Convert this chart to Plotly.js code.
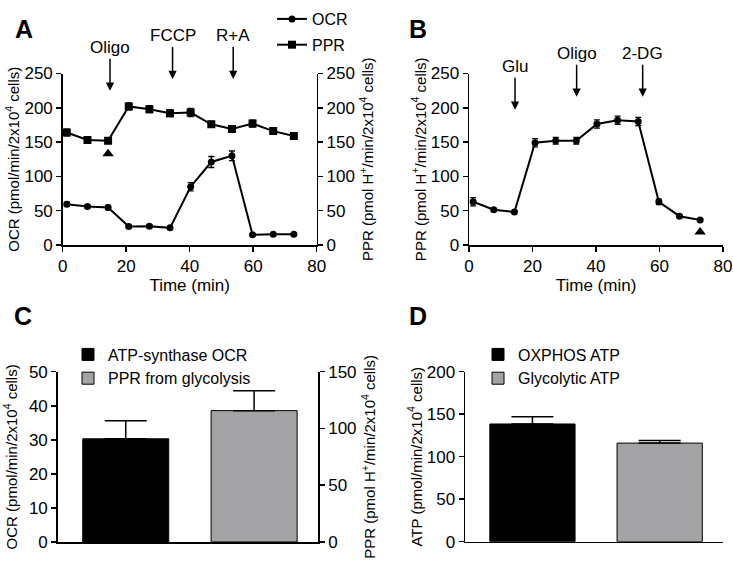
<!DOCTYPE html>
<html>
<head>
<meta charset="utf-8">
<script src="https://cdn.plot.ly/plotly-3.0.1.min.js"></script>
<style>body{margin:0;background:#fff}</style>
</head>
<body>
<div id="myDiv" style="width:733px;height:566px"></div>
<script>
// time points (min), shared by panel A and B
var time = [1.3, 7.8, 14.3, 20.8, 27.3, 33.8, 40.3, 46.8, 53.3, 59.8, 66.3, 72.8];

// panel A
var ocr = [59.5, 56, 54.7, 27, 27.5, 25, 85, 121, 130, 15, 15.5, 15.5];
var ocr_err = [3, 2, 3, 2, 2, 2, 6, 8, 7, 1.5, 1.5, 1.5];
var ppr_a = [164, 153, 152, 202, 198, 192, 193, 176, 169, 177, 166, 159];
var ppr_a_err = [5, 3, 3, 5, 5, 5, 6, 4, 3, 5, 4, 4];
var inject_a = ['Oligo', 'FCCP', 'R+A'];
var inject_a_t = [14.9, 34.6, 53.7];
var inject_a_tip = [225, 242, 242];
var mark_a = [14.3, 133];

// panel B
var ppr_b = [63, 51.5, 48, 149, 152, 152, 176.5, 182, 180, 63, 42, 36.5];
var ppr_b_err = [6, 2, 1.5, 6, 5, 5, 6, 6, 6, 4, 2, 2];
var inject_b = ['Glu', 'Oligo', '2-DG'];
var inject_b_t = [14.5, 33.9, 54.7];
var inject_b_tip = [197, 216, 216];
var mark_b = [72.8, 19];

// panel C
var c_names = ['ATP-synthase OCR', 'PPR from glycolysis'];
var c_values = [30.3, 115.7];
var c_err = [5.3, 17.6];

// panel D
var d_names = ['OXPHOS ATP', 'Glycolytic ATP'];
var d_values = [138.5, 116];
var d_err = [8.5, 3];

var W = 733, H = 566;
function px(x){ return x / W; }
function py(y){ return 1 - y / H; }

var font = 'Liberation Sans, Arial, sans-serif';

function axis(extra){
    var a = {
        showline: true, linecolor: '#000', linewidth: 1.5,
        ticks: 'outside', ticklen: 5, tickwidth: 1.5, tickcolor: '#000',
        showgrid: false, zeroline: false,
        tickfont: {family: font, size: 17, color: '#000'},
        fixedrange: true
    };
    for (var k in extra) a[k] = extra[k];
    return a;
}

function errs(arr){
    return {type: 'data', array: arr, color: '#000', thickness: 1.3, width: 3};
}

var line = {color: '#000', width: 2};

var data = [
    {
        x: time, y: ocr, error_y: errs(ocr_err),
        mode: 'lines+markers', name: 'OCR', legendgroup: 'a1',
        line: line, marker: {symbol: 'circle', size: 7, color: '#000'},
        xaxis: 'x', yaxis: 'y'
    },
    {
        x: time, y: ppr_a, error_y: errs(ppr_a_err),
        mode: 'lines+markers', name: 'PPR', legendgroup: 'a2',
        line: line, marker: {symbol: 'square', size: 8, color: '#000'},
        xaxis: 'x', yaxis: 'y2'
    },
    {
        x: [mark_a[0]], y: [mark_a[1]], mode: 'markers', showlegend: false,
        marker: {symbol: 'triangle-up', size: 10, color: '#000'},
        xaxis: 'x', yaxis: 'y2'
    },
    {
        x: time, y: ppr_b, error_y: errs(ppr_b_err),
        mode: 'lines+markers', name: 'PPR B', showlegend: false,
        line: line, marker: {symbol: 'circle', size: 7, color: '#000'},
        xaxis: 'x2', yaxis: 'y3'
    },
    {
        x: [mark_b[0]], y: [mark_b[1]], mode: 'markers', showlegend: false,
        marker: {symbol: 'triangle-up', size: 10, color: '#000'},
        xaxis: 'x2', yaxis: 'y3'
    },
    {
        type: 'bar', x: [c_names[0]], y: [c_values[0]], name: c_names[0],
        width: 0.67, legend: 'legend2',
        marker: {color: '#000', line: {color: '#000', width: 1}},
        error_y: {type: 'data', array: [c_err[0]], arrayminus: [0], symmetric: false, color: '#000', thickness: 1.5, width: 21},
        xaxis: 'x3', yaxis: 'y4'
    },
    {
        type: 'bar', x: [c_names[1]], y: [c_values[1]], name: c_names[1],
        width: 0.67, legend: 'legend2',
        marker: {color: '#a3a3a6', line: {color: '#000', width: 1}},
        error_y: {type: 'data', array: [c_err[1]], arrayminus: [0], symmetric: false, color: '#000', thickness: 1.5, width: 21},
        xaxis: 'x3', yaxis: 'y5'
    },
    {
        type: 'bar', x: [d_names[0]], y: [d_values[0]], name: d_names[0],
        width: 0.67, legend: 'legend3',
        marker: {color: '#000', line: {color: '#000', width: 1}},
        error_y: {type: 'data', array: [d_err[0]], arrayminus: [0], symmetric: false, color: '#000', thickness: 1.5, width: 21},
        xaxis: 'x4', yaxis: 'y6'
    },
    {
        type: 'bar', x: [d_names[1]], y: [d_values[1]], name: d_names[1],
        width: 0.67, legend: 'legend3',
        marker: {color: '#a3a3a6', line: {color: '#000', width: 1}},
        error_y: {type: 'data', array: [d_err[1]], arrayminus: [0], symmetric: false, color: '#000', thickness: 1.5, width: 21},
        xaxis: 'x4', yaxis: 'y6'
    }
];

var titleFont = {family: font, size: 15, color: '#000'};
var domA = [py(245), py(73.5)];
var domC = [py(542), py(371.7)];

var annotations = [];
function inject(names, ts, tips, xr, yr){
    for (var i = 0; i < names.length; i++) {
        annotations.push({
            text: names[i], x: ts[i], y: tips[i], xref: xr, yref: yr,
            showarrow: true, ax: 0, ay: -43, arrowhead: 2, arrowsize: 1.1,
            arrowwidth: 1.5, arrowcolor: '#000',
            font: {family: font, size: 17, color: '#000'}
        });
    }
}
inject(inject_a, inject_a_t, inject_a_tip, 'x', 'y');
inject(inject_b, inject_b_t, inject_b_tip, 'x2', 'y3');

var letters = [['A', 13, 13], ['B', 418, 13], ['C', 12, 316], ['D', 418, 316]];
letters.forEach(function(l){
    annotations.push({
        text: '<b>' + l[0] + '</b>', x: px(l[1]), y: py(l[2]),
        xref: 'paper', yref: 'paper', showarrow: false,
        font: {family: font, size: 25, color: '#000'}
    });
});

var legendStyle = function(x, y){
    return {
        x: x, y: y, xanchor: 'left', yanchor: 'top',
        bgcolor: 'rgba(0,0,0,0)', tracegroupgap: 2,
        font: {family: font, size: 16, color: '#000'}
    };
};

var layout = {
    width: W, height: H,
    margin: {l: 0, r: 0, t: 0, b: 0},
    paper_bgcolor: '#fff', plot_bgcolor: '#fff',
    font: {family: font, color: '#000'},
    barmode: 'overlay',
    showlegend: true,
    legend: legendStyle(px(272), py(2)),
    legend2: legendStyle(px(68), py(337.5)),
    legend3: legendStyle(px(478), py(337.5)),

    xaxis: axis({domain: [px(62.7), px(316.7)], anchor: 'y', range: [0, 80], dtick: 20,
        title: {text: 'Time (min)', font: {family: font, size: 17, color: '#000'}, standoff: 3}}),
    yaxis: axis({domain: domA, anchor: 'x', range: [0, 250], dtick: 50,
        title: {text: 'OCR (pmol/min/2x10<sup>4</sup> cells)', font: titleFont}}),
    yaxis2: axis({overlaying: 'y', side: 'right', anchor: 'x', range: [0, 250], dtick: 50,
        title: {text: 'PPR (pmol H<sup>+</sup>/min/2x10<sup>4</sup> cells)', font: titleFont}}),

    xaxis2: axis({domain: [px(469), px(723)], anchor: 'y3', range: [0, 80], dtick: 20,
        title: {text: 'Time (min)', font: {family: font, size: 17, color: '#000'}, standoff: 3}}),
    yaxis3: axis({domain: domA, anchor: 'x2', range: [0, 250], dtick: 50,
        title: {text: 'PPR (pmol H<sup>+</sup>/min/2x10<sup>4</sup> cells)', font: titleFont}}),

    xaxis3: axis({domain: [px(57.7), px(318.3)], anchor: 'y4', range: [-0.53, 1.5],
        type: 'category', categoryorder: 'array', categoryarray: c_names,
        showticklabels: false, ticks: ''}),
    yaxis4: axis({domain: domC, anchor: 'x3', range: [0, 50], dtick: 10,
        title: {text: 'OCR (pmol/min/2x10<sup>4</sup> cells)', font: titleFont}}),
    yaxis5: axis({overlaying: 'y4', side: 'right', anchor: 'x3', range: [0, 150], dtick: 50,
        title: {text: 'PPR (pmol H<sup>+</sup>/min/2x10<sup>4</sup> cells)', font: titleFont}}),

    xaxis4: axis({domain: [px(465), px(723.3)], anchor: 'y6', range: [-0.53, 1.5],
        type: 'category', categoryorder: 'array', categoryarray: d_names,
        showticklabels: false, ticks: ''}),
    yaxis6: axis({domain: [py(541.7), py(371.7)], anchor: 'x4', range: [0, 200], dtick: 50,
        title: {text: 'ATP (pmol/min/2x10<sup>4</sup> cells)', font: titleFont}}),

    annotations: annotations
};

Plotly.newPlot('myDiv', data, layout, {displayModeBar: false, staticPlot: true});
</script>
</body>
</html>
